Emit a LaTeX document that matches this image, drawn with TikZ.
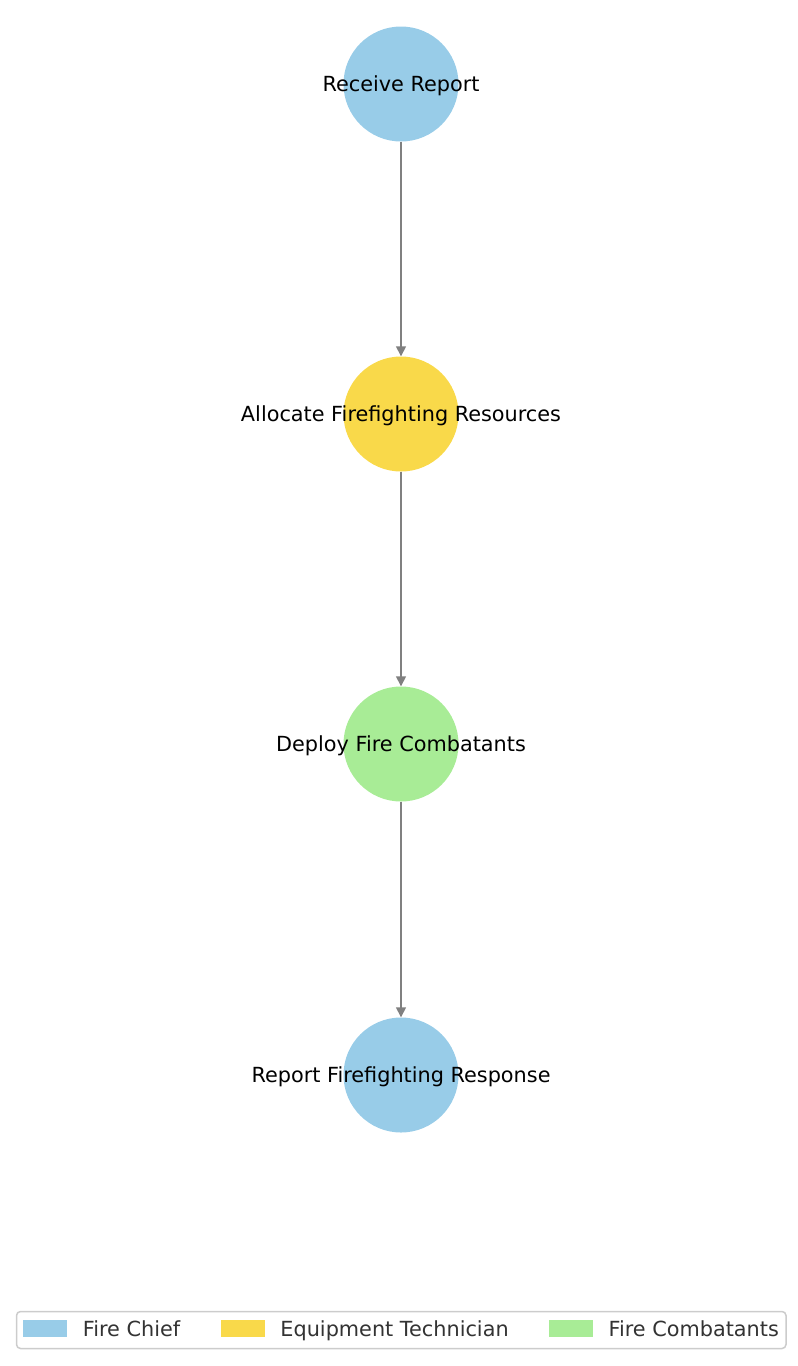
\documentclass[tikz,border=0pt]{standalone}
\usepackage{fontspec}
\setmainfont{DejaVu Sans}
\usetikzlibrary{arrows.meta,positioning}
\definecolor{chiefblue}{RGB}{152,204,232}
\definecolor{techyellow}{RGB}{249,217,74}
\definecolor{combatgreen}{RGB}{168,236,150}
\definecolor{flowgray}{RGB}{128,128,128}
\definecolor{legendgray}{RGB}{204,204,204}
\definecolor{legendtextcol}{RGB}{51,51,51}
\tikzset{
  task/.style={circle, minimum size=115pt, inner sep=0pt, draw=none},
  tasklabel/.style={inner sep=0pt, text height=18pt, text depth=4pt},
  flow/.style={draw=flowgray, line width=1.5pt, -{Triangle[length=10pt,width=10pt]}},
  patch/.style={minimum width=43.5pt, minimum height=16.5pt, inner sep=0pt},
  legendtext/.style={text=legendtextcol, inner sep=0pt, text height=18pt, text depth=2pt},
}

\begin{document}
\begin{tikzpicture}[x=1pt, y=-1pt, font=\fontsize{20.8}{25}\selectfont]
            \useasboundingbox (0,0) rectangle (798,1366);
            % steps
            \node[task, fill=chiefblue, label={[tasklabel]center:Receive Report}] (receive) at (401,84) {};
            \node[task, fill=techyellow, label={[tasklabel]center:Allocate Firefighting Resources}] (allocate) at (401,414) {};
            \node[task, fill=combatgreen, label={[tasklabel]center:Deploy Fire Combatants}] (deploy) at (401,744) {};
            \node[task, fill=chiefblue, label={[tasklabel]center:Report Firefighting Response}] (respond) at (401,1075) {};
            \draw[flow] (receive) -- (allocate);
            \draw[flow] (allocate) -- (deploy);
            \draw[flow] (deploy) -- (respond);
            % legend
            \draw[draw=legendgray, line width=1.5pt, rounded corners=4pt, fill=white] (16.5,1311.5) rectangle (786,1348.5);
            \node[patch, fill=chiefblue] (keychief) at (45.2,1328.5) {};
            \node[legendtext, anchor=west, right=15.5pt of keychief] (keychieftext) {Fire Chief};
            \node[patch, fill=techyellow] (keytech) at (242.8,1328.5) {};
            \node[legendtext, anchor=west, right=15.5pt of keytech] (keytechtext) {Equipment Technician};
            \node[patch, fill=combatgreen] (keycombat) at (571,1328.5) {};
            \node[legendtext, anchor=west, right=15.5pt of keycombat] (keycombattext) {Fire Combatants};
        \end{tikzpicture}
\end{document}
